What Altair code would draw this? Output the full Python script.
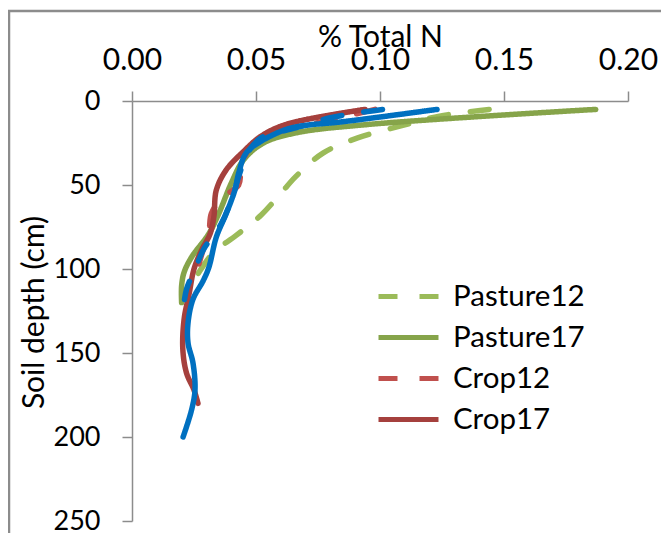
import altair as alt
import pandas as pd

# ---- series definitions ----
series_names = ["Pasture12", "Pasture17", "Crop12", "Crop17", "Native12", "Native17"]
series_colors = ["#9BBB59", "#86A44A", "#C0504D", "#A5403D", "#0070C0", "#0070C0"]
series_dashes = [[19, 22], [1, 0], [19, 22], [1, 0], [19, 22], [1, 0]]
legend_names = ["Pasture12", "Pasture17", "Crop12", "Crop17"]

x_ticks = [0.0, 0.05, 0.10, 0.15, 0.20]
y_ticks = [0, 50, 100, 150, 200, 250]

# ---- values (% total N vs soil depth cm) ----
pasture12_n = [0.144, 0.124, 0.108, 0.091, 0.077, 0.066, 0.060, 0.052, 0.042, 0.033, 0.027, 0.024]
pasture12_depth = [5, 9, 15, 22, 31, 45, 55, 68, 80, 90, 102, 110]

pasture17_n = [0.187, 0.095, 0.066, 0.053, 0.045, 0.040, 0.035, 0.031, 0.024, 0.021, 0.020, 0.020]
pasture17_depth = [5, 14, 19, 25, 35, 49, 67, 79, 93, 102, 110, 120]

crop12_n = [0.098, 0.078, 0.060, 0.048, 0.044, 0.043, 0.036, 0.032, 0.031, 0.029, 0.027]
crop12_depth = [5, 12, 18, 27, 40, 50, 58, 67, 78, 87, 97]

crop17_n = [0.094, 0.062, 0.052, 0.045, 0.038, 0.034, 0.033, 0.0315, 0.028, 0.025, 0.023, 0.021,
            0.0205, 0.022, 0.025, 0.0266]
crop17_depth = [5, 14, 21, 30, 41, 53, 69, 79, 89, 100, 115, 130, 148, 162, 172, 180]

native12_n = [0.101, 0.080, 0.066, 0.052, 0.047, 0.043, 0.041, 0.036, 0.029, 0.026, 0.022, 0.021]
native12_depth = [5, 10, 16, 22, 30, 45, 55, 73, 88, 98, 112, 120]

native17_n = [0.123, 0.084, 0.070, 0.062, 0.052, 0.046, 0.043, 0.0415, 0.038, 0.034, 0.031, 0.0287,
              0.0246, 0.0226, 0.0226, 0.0246, 0.0254, 0.024, 0.0206]
native17_depth = [5, 12.5, 14.5, 17, 24, 31, 43, 53, 67, 81, 99, 107, 118, 132, 144, 156, 172, 184, 200]

all_n = [pasture12_n, pasture17_n, crop12_n, crop17_n, native12_n, native17_n]
all_depth = [pasture12_depth, pasture17_depth, crop12_depth, crop17_depth, native12_depth, native17_depth]

rows = []
for name, ns, ds in zip(series_names, all_n, all_depth):
    for i, (n, d) in enumerate(zip(ns, ds)):
        rows.append({"series": name, "n": n, "depth": d, "idx": i})
df = pd.DataFrame(rows)

FONT = "Lato"
FS = 30

legend = alt.Legend(
    values=legend_names,
    title=None,
    orient="none",
    legendX=244,
    legendY=175,
    padding=0,
    rowPadding=0,
    clipHeight=41,
    symbolType="stroke",
    symbolSize=3600,
    symbolStrokeWidth=5,
    labelOffset=12,
    labelFont=FONT,
    labelFontSize=29.5,
    labelColor="black",
    labelLimit=400,
)

base = alt.Chart(df).mark_line(
    interpolate="catmull-rom", strokeWidth=5.5, strokeCap="round", strokeJoin="round"
).encode(
    x=alt.X(
        "n:Q",
        scale=alt.Scale(domain=[0, 0.2], nice=False, zero=False),
        axis=alt.Axis(
            orient="top",
            values=x_ticks,
            format=".2f",
            title="% Total N",
            titleY=-55,
            titleBaseline="alphabetic",
            labelPadding=16,
            tickSize=10,
            labelFlush=False,
            labelOverlap=False,
        ),
    ),
    y=alt.Y(
        "depth:Q",
        scale=alt.Scale(domain=[0, 250], reverse=True, nice=False),
        axis=alt.Axis(
            orient="left",
            values=y_ticks,
            title="Soil depth (cm)",
            titleX=-98,
            titleY=211,
            titleAngle=270,
            titleAlign="center",
            titleBaseline="middle",
            titleFontSize=30,
            labelFontSize=27,
            labelPadding=22,
            tickSize=10,
            labelFlush=False,
            labelOverlap=False,
        ),
    ),
    color=alt.Color(
        "series:N",
        scale=alt.Scale(domain=series_names, range=series_colors),
        legend=legend,
    ),
    strokeDash=alt.StrokeDash(
        "series:N",
        scale=alt.Scale(domain=series_names, range=series_dashes),
        legend=legend,
    ),
    order=alt.Order("depth:Q"),
)

lines = [base.transform_filter(alt.datum.series == s) for s in series_names]

border = alt.Chart(pd.DataFrame({"k": [0]})).mark_rect(
    fillOpacity=0, stroke="#8C8C8C", strokeWidth=2.5
).encode(
    x=alt.value(-123), x2=alt.value(700), y=alt.value(-90), y2=alt.value(600)
)

chart = alt.layer(border, *lines).properties(
    width=496,
    height=420,
    autosize=alt.AutoSizeParams(type="none"),
    padding={"left": 124, "top": 93, "right": 33, "bottom": 20},
).configure_view(
    stroke="transparent"
).configure_axis(
    labelFont=FONT,
    titleFont=FONT,
    labelFontSize=FS,
    titleFontSize=FS,
    titleFontWeight="normal",
    labelColor="black",
    titleColor="black",
    domainColor="#8C8C8C",
    tickColor="#8C8C8C",
    domainWidth=1.5,
    tickWidth=1.5,
    grid=False,
)

chart.save("out.html", embed_options={"renderer": "svg", "actions": False})
